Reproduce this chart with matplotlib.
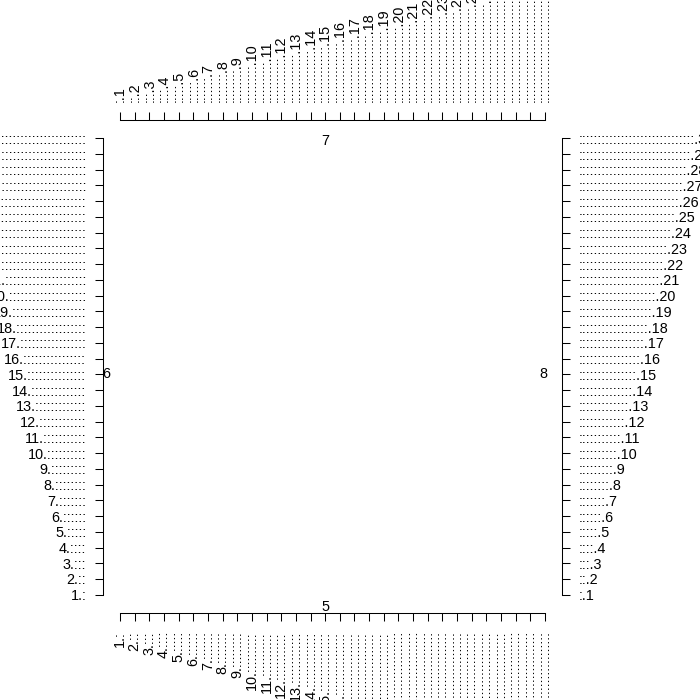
import matplotlib
matplotlib.use("Agg")
import matplotlib.pyplot as plt

plt.rcParams['font.family'] = ['Liberation Sans', 'DejaVu Sans']

# tick positions and labels (1..30 on every side)
ticks = list(range(1, 31))
bottom_labels = ['%d.%s' % (i, ':' * i) for i in ticks]
left_labels = ['%d.%s' % (i, ':' * i) for i in ticks]
top_labels = ['%s.%d' % (':' * i, i) for i in ticks]
right_labels = ['%s.%d' % (':' * i, i) for i in ticks]

# side texts
side_text = ['5', '6', '7', '8']

W, H = 700, 700
fig = plt.figure(figsize=(7, 7), dpi=100)
left, right, top, bottom = 103, 562, 120, 613
ax = fig.add_axes([left / W, 1 - bottom / H, (right - left) / W, (bottom - top) / H])

ext = 0.04 * 29
lim = (1 - ext, 30 + ext)
fs = 10.4
lw = 0.75

ax_t = ax.twiny()
ax_r = ax.twinx()
for a in (ax, ax_t, ax_r):
    a.set_xlim(*lim)
    a.set_ylim(*lim)
    for s in a.spines.values():
        s.set_visible(False)
    a.patch.set_visible(False)

# bottom + left
ax.spines['bottom'].set_visible(True)
ax.spines['left'].set_visible(True)
ax.spines['bottom'].set_bounds(1, 30)
ax.spines['left'].set_bounds(1, 30)
ax.set_xticks(ticks)
ax.set_xticklabels(bottom_labels, rotation=90, fontsize=fs)
ax.set_yticks(ticks)
ax.set_yticklabels(left_labels, fontsize=fs)
ax.tick_params(axis='x', direction='out', length=5.5, width=lw, pad=7.5)
ax.tick_params(axis='y', direction='out', length=5.5, width=lw, pad=6.5)

# top
ax_t.spines['top'].set_visible(True)
ax_t.spines['top'].set_bounds(1, 30)
ax_t.set_xticks(ticks)
ax_t.set_xticklabels(top_labels, rotation=90, fontsize=fs)
ax_t.tick_params(axis='x', direction='out', length=5.5, width=lw, pad=7.5)

# right
ax_r.spines['right'].set_visible(True)
ax_r.spines['right'].set_bounds(1, 30)
ax_r.set_yticks(ticks)
ax_r.set_yticklabels(right_labels, fontsize=fs)
ax_r.tick_params(axis='y', direction='out', length=5.5, width=lw, pad=6.5)

for a in (ax, ax_t, ax_r):
    for s in a.spines.values():
        s.set_linewidth(lw)

ax.text(15, 0.25, side_text[0], ha='center', va='center', fontsize=fs)
ax.text(0.05, 15, side_text[1], ha='center', va='center', fontsize=fs)
ax.text(15, 29.85, side_text[2], ha='center', va='center', fontsize=fs)
ax.text(29.9, 15, side_text[3], ha='center', va='center', fontsize=fs)

fig.savefig('out.png', dpi=100)
